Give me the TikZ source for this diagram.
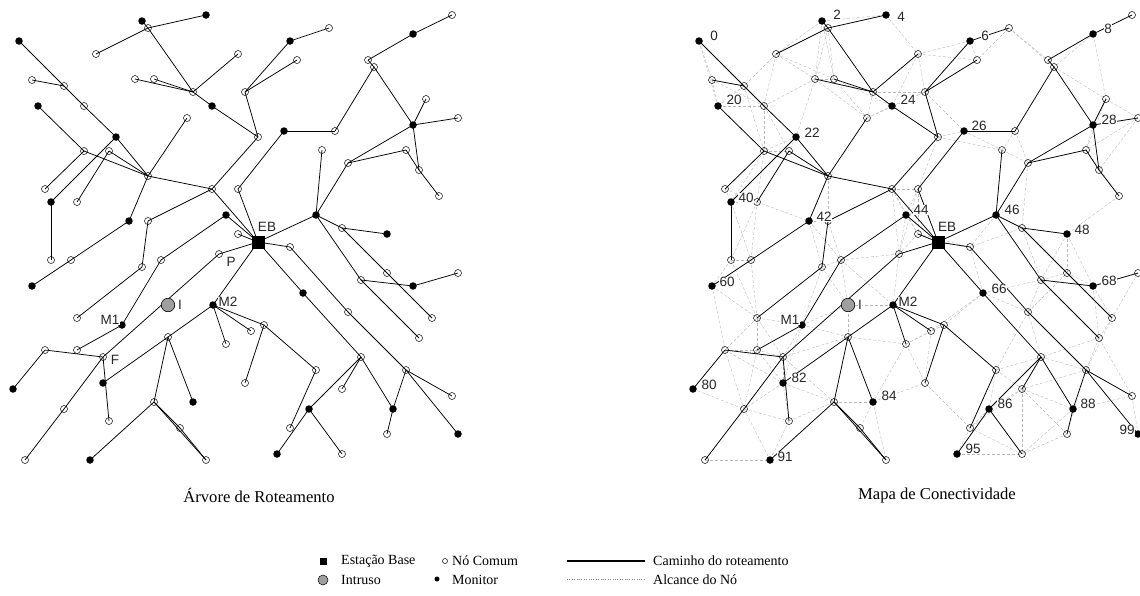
\documentclass[tikz,border=0pt]{standalone}
\usepackage{fontspec}
\setmainfont{Liberation Serif}
\setsansfont{Liberation Sans}
\usetikzlibrary{calc}
\pgfdeclarelayer{alcance}
\pgfdeclarelayer{arvore}
\pgfsetlayers{alcance,arvore,main}

% x/y/tipo de cada sensor (99 = estacao base, 100 = intruso)
\def\sensores{19/41/mon, 142/21/mon, 148/28/com, 206/15/mon, 96/54/com,
  238/54/com, 32/80/com, 64/86/com, 135/79/com, 154/79/com,
  193/92/com, 38/106/mon, 84/106/com, 212/106/mon, 187/118/com,
  116/137/mon, 84/151/com, 109/151/com, 148/176/com, 212/189/com,
  238/189/com, 45/189/com, 51/202/mon, 77/202/com, 129/221/mon,
  148/221/com, 226/215/mon, 238/234/com, 290/41/mon, 329/28/com,
  297/60/com, 245/92/com, 258/137/com, 284/131/mon, 335/131/com,
  322/150/com, 452/15/com, 413/34/mon, 368/60/com, 374/67/com,
  426/99/com, 413/125/mon, 458/118/com, 406/150/com, 348/163/com,
  419/170/com, 439/196/com, 316/215/mon, 342/228/com, 387/234/mon,
  51/260/com, 71/260/com, 32/286/mon, 142/267/com, 161/260/com,
  219/254/com, 213/305/mon, 77/318/com, 122/325/mon, 226/344/com,
  168/337/com, 45/350/com, 77/350/com, 103/357/com, 13/389/mon,
  103/383/mon, 64/409/com, 109/421/com, 154/402/com, 193/402/mon,
  180/428/com, 25/460/com, 90/460/mon, 206/460/com, 290/247/com,
  303/293/mon, 348/312/com, 361/280/com, 387/273/com, 413/286/mon,
  458/273/com, 432/318/com, 419/338/com, 264/325/com, 251/331/com,
  245/383/com, 316/370/com, 361/357/com, 406/370/com, 342/389/com,
  309/409/mon, 393/409/mon, 452/396/com, 290/428/com, 387/434/com,
  458/434/mon, 277/454/mon, 342/454/com, 258/242/est, 168/305/intr}

% arestas da arvore de roteamento
\def\caminhos{1/8, 7/8, 8/13, 13/16, 2/3, 3/4, 5/3, 3/11, 6/11, 9/11,
  10/11, 11/14, 14/33, 12/17, 17/19, 17/22, 16/19, 16/23, 18/19, 18/24,
  15/19, 19/20, 19/25, 20/26, 20/33, 20/99, 23/51, 25/52, 52/53, 26/54,
  54/58, 27/55, 27/99, 28/99, 29/30, 29/32, 31/32, 32/33, 34/35, 34/21,
  21/99, 35/40, 39/40, 39/38, 38/37, 40/42, 42/41, 42/43, 42/45, 42/46,
  45/44, 44/46, 46/47, 45/48, 48/36, 48/99, 48/49, 49/50, 48/78, 78/83,
  78/80, 80/81, 49/79, 79/82, 99/75, 75/77, 77/89, 89/93, 89/96, 89/92,
  92/95, 99/76, 76/88, 88/92, 88/91, 88/90, 91/97, 91/98, 99/57, 57/84,
  84/87, 87/94, 84/86, 57/85, 57/60, 57/61, 61/66, 61/69, 61/70, 69/73,
  69/71, 71/74, 69/74, 99/56, 56/64, 64/67, 67/72, 64/68, 64/62, 62/65,
  63/59, 59/55}

% sensor/texto/dx/dy dos numeros do mapa
\def\rotulos{1/0/15/-5, 2/2/15/-6, 4/4/15/2, 29/6/15/-5, 38/8/15/-5,
  12/20/16/-6, 16/22/16/-4, 14/24/16/-6, 34/26/15/-5, 42/28/16/-5,
  23/40/15/-4, 25/42/15/-4, 27/44/15/-5, 48/46/16/-5, 50/48/15/-4,
  53/60/15/-4, 76/66/16/-4, 80/68/16/-5, 65/80/16/-4, 66/82/16/-5,
  70/84/16/-6, 91/86/16/-5, 92/88/15/-5, 73/91/15/-3, 97/95/16/-5,
  96/99/-11/-4}

\tikzset{
  com/.style={circle, draw, line width=0.5pt, inner sep=0pt, minimum size=7pt},
  mon/.style={circle, fill, inner sep=0pt, minimum size=7.5pt},
  est/.style={rectangle, fill, inner sep=0pt, minimum size=13pt},
  intr/.style={circle, draw, fill=gray!75, line width=0.6pt, inner sep=0pt, minimum size=13.5pt},
  rota/.style={line width=0.75pt},
  alc/.style={gray!55, densely dashed, line width=0.4pt},
  rot/.style={font=\sffamily\fontsize{13.5}{13.5}\selectfont, text=black!85, fill=white, inner sep=0.6pt},
  titulo/.style={font=\fontsize{16.6}{18}\selectfont},
  legenda/.style={font=\fontsize{14}{16}\selectfont, anchor=west, inner sep=0pt}
}

\begin{document}
\begin{tikzpicture}[x=1pt, y=-1pt]
\useasboundingbox (0,0) rectangle (1140,595);

% sensores nos dois paineis
\foreach \p/\dx in {a/0, b/680}
  \foreach \x/\y/\t [count=\i] in \sensores
    \node[\t] (\p\i) at (\x+\dx,\y) {};

% alcance do no (so no mapa)
\begin{pgfonlayer}{alcance}
\foreach \xa/\ya/\ta [count=\i] in \sensores {
  \foreach \xb/\yb/\tb [count=\j] in \sensores {
    \ifnum\j>\i
      \pgfmathtruncatemacro\perto{veclen(\xa-\xb,\ya-\yb)<69}
      \ifnum\perto=1 \draw[alc] (b\i.center) -- (b\j.center);\fi
    \fi
  }
}
\end{pgfonlayer}

% caminhos
\begin{pgfonlayer}{arvore}
\foreach \p in {a,b}
  \foreach \u/\v in \caminhos
    \draw[rota] (\p\u.center) -- (\p\v.center);
\end{pgfonlayer}

% rotulos
\foreach \n/\txt/\dx/\dy in \rotulos
  \node[rot] (r\n) at ($(b\n)+(\dx,\dy)$) {\txt};
\foreach \p in {a,b}{
  \node[rot] (eb\p) at ($(\p99)+(9,-15)$) {EB};
  \node[rot] (in\p) at ($(\p100)+(12,0)$) {I};
  \node[rot] (ma\p) at ($(\p59)+(-12,-5)$) {M1};
  \node[rot] (mb\p) at ($(\p57)+(15,-3)$) {M2};
}
\node[rot] (pa) at ($(a56)+(12,8)$) {P};
\node[rot] (fa) at ($(a64)+(12,3)$) {F};

\node[titulo] (t1) at (259,495) {Árvore de Roteamento};
\node[titulo] (t2) at (937,495) {Mapa de Conectividade};

% legenda
\node[est, minimum size=7pt] (lg1) at (323,561) {};
\node[legenda] (lt1) at (341,561) {Estação Base};
\node[intr, minimum size=10pt, line width=0.5pt] (lg2) at (323,580) {};
\node[legenda] (lt2) at (341,580) {Intruso};
\node[com, minimum size=5pt] (lg3) at (445,561) {};
\node[legenda] (lt3) at (452,561) {Nó Comum};
\node[mon, minimum size=5pt] (lg4) at (437,579) {};
\node[legenda] (lt4) at (452,580) {Monitor};
\coordinate (la) at (567,561);
\coordinate (lb) at (645,561);
\draw[line width=1.2pt] (la) -- (lb);
\node[legenda] (lt5) at (653,561) {Caminho do roteamento};
\coordinate (lc) at (567,579);
\coordinate (ld) at (645,579);
\draw[dotted, gray] (lc) -- (ld);
\node[legenda] (lt6) at (653,580) {Alcance do Nó};
\end{tikzpicture}
\end{document}
